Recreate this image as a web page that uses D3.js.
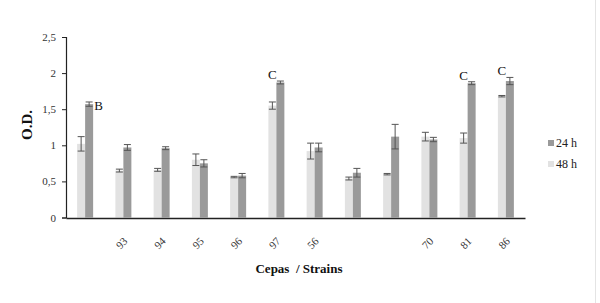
<!DOCTYPE html>
<html><head><meta charset="utf-8">
<script src="https://cdn.jsdelivr.net/npm/d3@7"></script>
<style>body{margin:0;background:#fff}svg{display:block}svg text{font-family:'Liberation Serif','Times New Roman',serif}</style>
</head><body>
<script>
const categories = ["c1","93","94","95","96","97","56","c8","c9","70","81","86"];
const tickLabels = ["","93","94","95","96","97","56","","","70","81","86"];
const v48 = [1.02,0.65,0.66,0.80,0.56,1.55,0.92,0.54,0.60,1.12,1.10,1.68];
const e48 = [0.10,0.02,0.02,0.08,0.01,0.05,0.11,0.02,0.01,0.06,0.07,0.01];
const v24 = [1.57,0.97,0.96,0.75,0.58,1.87,0.97,0.62,1.12,1.08,1.86,1.89];
const e24 = [0.03,0.04,0.02,0.05,0.03,0.02,0.06,0.06,0.17,0.03,0.02,0.05];
const letters = ["B","","","","","C","","","","","C","C"];
const yTicks = [0,0.5,1,1.5,2,2.5];

const W=600,H=303;
const svg=d3.select("body").append("svg").attr("width",W).attr("height",H);
const x=d3.scaleBand().domain(categories).range([66,525]);
const y=d3.scaleLinear().domain([0,2.5]).range([217.5,37]);
const bw=8;
const c48="#e2e2e2", c24="#9a9a9a";
const SERIF="'Liberation Serif','Times New Roman',serif";

svg.append("line").attr("x1",595.5).attr("x2",595.5).attr("y1",0).attr("y2",H).attr("stroke","#e4e4e4");

const g=svg.append("g");
categories.forEach((c,i)=>{
  const cx=x(c)+x.bandwidth()/2;
  g.append("rect").attr("x",cx-bw).attr("width",bw).attr("y",y(v48[i])).attr("height",y(0)-y(v48[i])).attr("fill",c48);
  g.append("rect").attr("x",cx).attr("width",bw).attr("y",y(v24[i])).attr("height",y(0)-y(v24[i])).attr("fill",c24);
  [[cx-bw/2,v48[i],e48[i]],[cx+bw/2,v24[i],e24[i]]].forEach(([ex,v,e])=>{
    const gg=g.append("g").attr("stroke","#555").attr("stroke-width",1);
    gg.append("line").attr("x1",ex).attr("x2",ex).attr("y1",y(v-e)).attr("y2",y(v+e));
    gg.append("line").attr("x1",ex-3.5).attr("x2",ex+3.5).attr("y1",y(v-e)).attr("y2",y(v-e));
    gg.append("line").attr("x1",ex-3.5).attr("x2",ex+3.5).attr("y1",y(v+e)).attr("y2",y(v+e));
  });
  if(letters[i]){
    const isB=letters[i]==="B";
    g.append("text").attr("x",isB?cx+bw+1:cx-4).attr("y",isB?y(v24[i])+6:y(v24[i]+e24[i])-2)
     .attr("text-anchor",isB?"start":"middle").style("font-family",SERIF).attr("font-size",13).attr("fill","#111").text(letters[i]);
  }
});

const ya=svg.append("g").attr("transform","translate(66,0)")
 .call(d3.axisLeft(y).tickValues(yTicks).tickSize(4).tickPadding(6).tickFormat(d=>String(d).replace(".",",")));
ya.attr("font-family",null);
ya.select(".domain").attr("stroke","#222").attr("stroke-width",1.2);
ya.selectAll(".tick line").attr("stroke","#222");
ya.selectAll("text").style("font-family",SERIF).attr("font-size",11).attr("fill","#333");

const xa=svg.append("g").attr("transform","translate(0,218)")
 .call(d3.axisBottom(x).tickSize(0).tickFormat((d,i)=>tickLabels[i]));
xa.attr("font-family",null);
xa.select(".domain").attr("stroke","#222").attr("stroke-width",1.5);
xa.selectAll("text").style("font-family",SERIF).attr("font-size",11).attr("fill","#333")
 .attr("text-anchor","end").attr("transform","translate(0,19) rotate(-45)").attr("dy","0.35em").attr("dx","0");

svg.append("text").attr("transform","translate(32,125) rotate(-90)").attr("text-anchor","middle")
 .style("font-family",SERIF).attr("font-weight","bold").attr("font-size",15).attr("fill","#111").text("O.D.");
svg.append("text").attr("x",299).attr("y",273).attr("text-anchor","middle").attr("xml:space","preserve")
 .style("font-family",SERIF).attr("font-weight","bold").attr("font-size",13).attr("fill","#111").text("Cepas  / Strains");

const leg=[["24 h",c24],["48 h",c48]];
leg.forEach(([t,c],i)=>{
  const ly=146+i*21;
  svg.append("rect").attr("x",548).attr("y",ly-6).attr("width",6).attr("height",6).attr("fill",c);
  svg.append("text").attr("x",556).attr("y",ly+1).style("font-family",SERIF).attr("font-size",12).attr("fill","#222").text(t);
});
</script>
</body></html>
